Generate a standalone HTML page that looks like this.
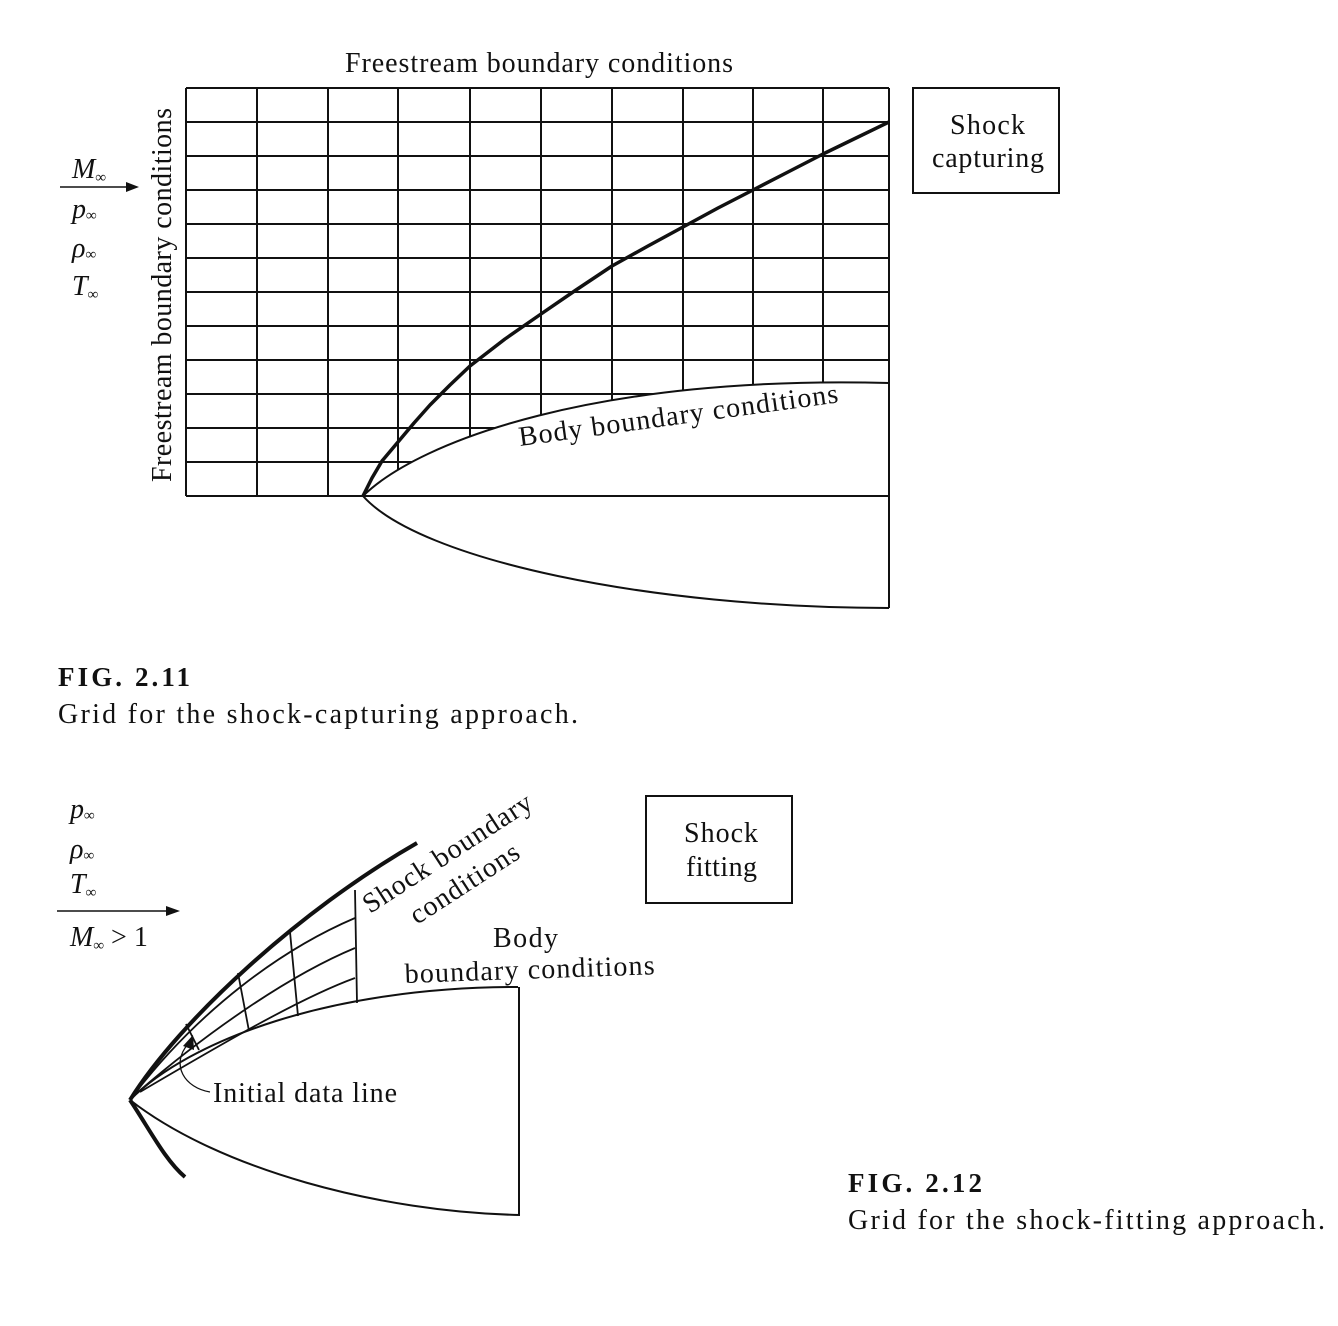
<!DOCTYPE html>
<html><head><meta charset="utf-8"><style>
html,body{margin:0;padding:0;background:#fff}
svg{display:block}
text{font-family:"Liberation Serif",serif;fill:#111}
</style></head><body>
<svg width="1338" height="1326" viewBox="0 0 1338 1326" xmlns="http://www.w3.org/2000/svg">
<g stroke="#111" stroke-width="2" fill="none">
  <path d="M186,88V496 M257,88V496 M328,88V496 M398,88V496 M470,88V496 M541,88V496 M612,88V496 M683,88V496 M753,88V496 M823,88V496 M889,88V496"/>
  <path d="M186,88H889 M186,122H889 M186,156H889 M186,190H889 M186,224H889 M186,258H889 M186,292H889 M186,326H889 M186,360H889 M186,394H889 M186,428H889 M186,462H889"/>
</g>
<path d="M363,496 C420,440 600,375 889,383 L892,383 L892,497 L363,497 Z" fill="#fff"/>
<g stroke="#111" fill="none">
  <path d="M186,496H889" stroke-width="2"/>
  <path d="M363,496 C420,440 600,375 889,383" stroke-width="2"/>
  <path d="M363,496 C420,560 650,608 889,608" stroke-width="2"/>
  <path d="M889,383V608" stroke-width="2"/>
  <path d="M363,496 L372,478 L382,461 L398,442 L414,423 L430,405 L450,385 L470,366 L505,339 L541,314 L576,290 L612,266 L648,246 L683,227 L718,208 L753,190 L788,172 L823,154 L856,138 L889,122" stroke-width="3.5" stroke-linejoin="round"/>
</g>
<text x="345" y="72" font-size="28" textLength="388" lengthAdjust="spacing">Freestream boundary conditions</text>
<text transform="translate(171,482) rotate(-90)" font-size="28" textLength="374" lengthAdjust="spacing">Freestream boundary conditions</text>
<text transform="translate(520,446) rotate(-7.8)" font-size="28" textLength="322" lengthAdjust="spacing">Body boundary conditions</text>
<rect x="913" y="88" width="146" height="105" fill="none" stroke="#111" stroke-width="2"/>
<text x="950" y="134" font-size="28" textLength="75" lengthAdjust="spacing">Shock</text>
<text x="932" y="167" font-size="28" textLength="112" lengthAdjust="spacing">capturing</text>
<g font-size="28" font-style="italic">
  <text x="72" y="178">M<tspan font-size="15" dy="4">∞</tspan></text>
  <text x="72" y="218">p<tspan font-size="15" dy="2">∞</tspan></text>
  <text x="72" y="257">ρ<tspan font-size="15" dy="2">∞</tspan></text>
  <text x="72" y="295">T<tspan font-size="15" dy="4">∞</tspan></text>
</g>
<path d="M60,187H128" stroke="#111" stroke-width="1.5"/>
<path d="M126,182L139,187L126,192Z" fill="#111"/>
<text x="58" y="686" font-size="27" font-weight="bold" textLength="132" lengthAdjust="spacing">FIG. 2.11</text>
<text x="58" y="723" font-size="28" textLength="520" lengthAdjust="spacing">Grid for the shock-capturing approach.</text>

<g stroke="#111" fill="none">
  <path d="M130,1100 C190,1040 330,987 518,987" stroke-width="2"/>
  <path d="M130,1100 C220,1170 380,1212 520,1215" stroke-width="2"/>
  <path d="M519,987V1215" stroke-width="2"/>
  <path d="M130,1100 C180,1020 300,910 417,843" stroke-width="4"/>
  <path d="M130,1100 C150,1130 165,1160 185,1177" stroke-width="4"/>
  <path d="M136,1092 C200,1010 280,950 355,918" stroke-width="1.8"/>
  <path d="M138,1092 C210,1030 290,975 355,948" stroke-width="1.8"/>
  <path d="M140,1092 C220,1045 300,998 355,978" stroke-width="1.8"/>
  <path d="M355,890L357,1003 M290,932L298,1016 M238,973L249,1031 M186,1024L199,1050" stroke-width="1.8"/>
  <path d="M210,1092 C185,1088 170,1065 188,1044" stroke-width="1.3"/>
</g>
<path d="M183,1046L193,1035L194,1050Z" fill="#111"/>
<text x="213" y="1102" font-size="28" textLength="184" lengthAdjust="spacing">Initial data line</text>
<g font-size="28" font-style="italic">
  <text x="70" y="818">p<tspan font-size="15" dy="2">∞</tspan></text>
  <text x="70" y="858">ρ<tspan font-size="15" dy="2">∞</tspan></text>
  <text x="70" y="893">T<tspan font-size="15" dy="4">∞</tspan></text>
  <text x="70" y="946">M<tspan font-size="15" dy="4">∞</tspan><tspan font-style="normal" dy="-4"> &gt; 1</tspan></text>
</g>
<path d="M57,911H168" stroke="#111" stroke-width="1.5"/>
<path d="M166,906L180,911L166,916Z" fill="#111"/>
<text transform="translate(370,914) rotate(-33)" font-size="28" textLength="196" lengthAdjust="spacing">Shock boundary</text>
<text transform="translate(417,925) rotate(-33)" font-size="28" textLength="125" lengthAdjust="spacing">conditions</text>
<text x="493" y="947" font-size="28" textLength="65" lengthAdjust="spacing">Body</text>
<text transform="translate(405,983) rotate(-2)" font-size="28" textLength="250" lengthAdjust="spacing">boundary conditions</text>
<rect x="646" y="796" width="146" height="107" fill="none" stroke="#111" stroke-width="2"/>
<text x="684" y="842" font-size="28" textLength="74" lengthAdjust="spacing">Shock</text>
<text x="686" y="876" font-size="28" textLength="71" lengthAdjust="spacing">fitting</text>
<text x="848" y="1192" font-size="27" font-weight="bold" textLength="134" lengthAdjust="spacing">FIG. 2.12</text>
<text x="848" y="1229" font-size="28" textLength="477" lengthAdjust="spacing">Grid for the shock-fitting approach.</text>
</svg>
</body></html>
